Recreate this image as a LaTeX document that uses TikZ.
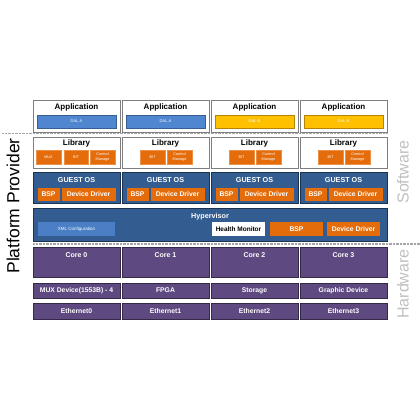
\documentclass[tikz,border=0pt]{standalone}
\usepackage{fontspec}
\setmainfont{Liberation Sans}
\definecolor{appgray}{HTML}{7F7F7F}
\definecolor{appblue}{HTML}{4F86CF}
\definecolor{appyellow}{HTML}{FFC000}
\definecolor{liborange}{HTML}{E46C0A}
\definecolor{osblue}{HTML}{335D91}
\definecolor{xmlblue}{HTML}{4A7FC6}
\definecolor{hwpurple}{HTML}{5E4A80}
\definecolor{sepgray}{HTML}{A6A6A6}
\definecolor{sidegray}{HTML}{BFBFBF}

\tikzset{
  box/.style={anchor=north west, inner sep=0pt, outer sep=0pt},
  appbox/.style={box, draw=appgray, fill=white, line width=0.8pt,
    minimum width=87pt, minimum height=32pt},
  dalbar/.style={box, fill=#1, draw=#1!70!black, line width=0.6pt,
    minimum width=79pt, minimum height=13pt, text=white,
    font=\fontsize{4}{4}\selectfont},
  libitem/.style={box, fill=liborange, draw=liborange!75!white, line width=0.5pt,
    minimum width=25pt, minimum height=14pt, text=white, align=center,
    font=\fontsize{3.8}{4.2}\selectfont},
  osbox/.style={box, fill=osblue, draw=osblue!55!black, line width=0.8pt},
  ositem/.style={box, fill=liborange, minimum height=13pt, text=white,
    font=\bfseries\fontsize{6.8}{7}\selectfont},
  hwbox/.style={box, fill=hwpurple, draw=hwpurple!55!black, line width=0.8pt,
    minimum width=87pt, text=white, font=\bfseries\fontsize{6.8}{7}\selectfont},
  title/.style={inner sep=0pt, font=\bfseries\fontsize{8}{8}\selectfont},
  wtitle/.style={title, text=white, font=\bfseries\fontsize{7.2}{7.2}\selectfont},
  sepline/.style={sepgray, line width=1.6pt, dash pattern=on 0.7pt off 0.7pt},
  sidelabel/.style={inner sep=0pt, rotate=90, font=\fontsize{16}{16}\selectfont},
}

\begin{document}
\begin{tikzpicture}[x=1pt, y=-1pt]
  \useasboundingbox (0,0) rectangle (420,420);

  % Software layers, one column per partition
  \foreach \i/\xl/\dal/\dcol in {0/33/DAL A/appblue, 1/122/DAL A/appblue,
                                  2/211/DAL B/appyellow, 3/300/DAL B/appyellow} {
    \node[appbox] (app\i) at (\xl,100) {};
    \node[title] (apptitle\i) at (\xl+43.5,107.5) {Application};
    \node[dalbar=\dcol] (dal\i) at (\xl+4,115) {\dal};

    \node[appbox, minimum height=31pt] (lib\i) at (\xl,137) {};
    \node[title] (libtitle\i) at (\xl+43.5,143.5) {Library};

    \node[osbox, minimum width=87pt, minimum height=31pt] (os\i) at (\xl,172) {};
    \node[wtitle] (ostitle\i) at (\xl+43.5,180) {GUEST OS};
    \node[ositem, minimum width=22pt] (osbsp\i) at (\xl+4.5,188) {BSP};
    \node[ositem, minimum width=54pt] (osdd\i) at (\xl+28.5,188) {Device Driver};
  }

  % Library contents
  \node[libitem] (mux0) at (36,150) {MUX};
  \node[libitem, minimum width=24pt] (bit0) at (64,150) {BIT};
  \node[libitem] (cm0) at (90,150) {Control\\Manage};
  \foreach \i/\xl in {1/122, 2/211, 3/300} {
    \node[libitem] (bit\i) at (\xl+18,150) {BIT};
    \node[libitem] (cm\i) at (\xl+45,150) {Control\\Manage};
  }

  % Hypervisor
  \node[osbox, minimum width=354pt, minimum height=33pt] (hyp) at (33,208) {};
  \node[wtitle] (hyptitle) at (210,216.5) {Hypervisor};
  \node[box, fill=xmlblue, minimum width=77pt, minimum height=14pt, text=white,
    font=\fontsize{4.5}{4.5}\selectfont] (xml) at (38,222) {XML Configuration};
  \node[box, fill=white, minimum width=53pt, minimum height=14pt,
    font=\bfseries\fontsize{6.5}{6.5}\selectfont] (health) at (212,222) {Health Monitor};
  \node[ositem, minimum width=53pt, minimum height=14pt] (hypbsp) at (270,222) {BSP};
  \node[ositem, minimum width=53pt, minimum height=14pt] (hypdd) at (327,222) {Device Driver};

  % Hardware
  \foreach \i/\xl/\dev in {0/33/MUX Device(1553B) - 4, 1/122/FPGA,
                           2/211/Storage, 3/300/Graphic Device} {
    \node[hwbox, minimum height=30pt] (core\i) at (\xl,247) {};
    \node[wtitle, font=\bfseries\fontsize{7}{7}\selectfont] (coretitle\i) at (\xl+43.5,255) {Core \i};
    \node[hwbox, minimum height=15pt] (dev\i) at (\xl,283) {\dev};
    \node[hwbox, minimum height=16pt] (eth\i) at (\xl,303) {Ethernet\i};
  }

  % Separators
  \coordinate (swleft) at (2,133.5);
  \coordinate (swright) at (388,133.5);
  \coordinate (hwleft) at (33,244);
  \coordinate (hwright) at (420,244);
  \draw[sepline] (swleft) -- (swright);
  \draw[sepline] (hwleft) -- (hwright);

  % Side labels
  \node[sidelabel, font=\fontsize{17.5}{17.5}\selectfont] (provider) at (13,206) {Platform Provider};
  \node[sidelabel, text=sidegray] (software) at (403,172) {Software};
  \node[sidelabel, text=sidegray] (hardware) at (403,284) {Hardware};
\end{tikzpicture}
\end{document}
